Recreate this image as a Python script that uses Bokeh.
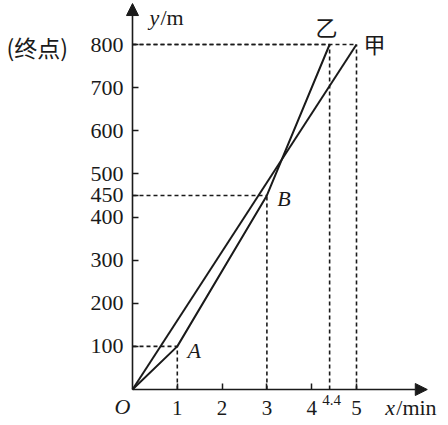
from bokeh.plotting import figure
from bokeh.models import Range1d, FixedTicker, Arrow, NormalHead, Label
from bokeh.embed import file_html
from bokeh.resources import INLINE

# ---- data ----
jia_x = [0, 5]
jia_y = [0, 800]
yi_x = [0, 1, 3, 4.4]
yi_y = [0, 100, 450, 800]
x_ticks = [1, 2, 3, 4, 5]
y_ticks = [100, 200, 300, 400, 450, 500, 600, 700, 800]

INK = "#1a1a1a"
SERIF = "Liberation Serif"
CJK = "Noto Sans CJK SC"

W, H = 446, 421
OX, OY = 132, 389          # pixel position of the origin
SX, SY = 44.8, 0.43125     # pixels per unit
X_TIP, Y_TIP = 6.58, 895

p = figure(width=W, height=H,
           x_range=Range1d(-OX / SX, (W - OX) / SX),
           y_range=Range1d(-(H - OY) / SY, OY / SY),
           output_backend="svg", toolbar_location=None,
           min_border_left=0, min_border_right=0, min_border_top=0, min_border_bottom=0)
p.grid.visible = False
p.outline_line_color = None
p.background_fill_color = "white"

for ax, ticks, size, standoff in ((p.xaxis[0], x_ticks, "21px", 11), (p.yaxis[0], y_ticks, "22px", 9)):
    ax.fixed_location = 0
    ax.ticker = FixedTicker(ticks=ticks)
    ax.axis_line_color = None
    ax.major_tick_in = 6
    ax.major_tick_out = 0
    ax.minor_tick_in = 0
    ax.minor_tick_out = 0
    ax.major_tick_line_color = INK
    ax.major_tick_line_width = 1.5
    ax.major_label_text_font = SERIF
    ax.major_label_text_font_size = size
    ax.major_label_text_color = INK
    ax.major_label_standoff = standoff

# dashed guide lines
pts_x = [yi_x[1], yi_x[2], yi_x[3], jia_x[1]]
pts_y = [yi_y[1], yi_y[2], yi_y[3], jia_y[1]]
p.segment(x0=[0] * len(pts_x), y0=pts_y, x1=pts_x, y1=pts_y,
          line_color=INK, line_width=1.6, line_dash="4 3")
p.segment(x0=pts_x, y0=[0] * len(pts_x), x1=pts_x, y1=pts_y,
          line_color=INK, line_width=1.6, line_dash="4 3")

# the two journeys
p.line(jia_x, jia_y, line_color=INK, line_width=2)
p.line(yi_x, yi_y, line_color=INK, line_width=2)

# axes with arrow heads
for xe, ye in ((X_TIP, 0), (0, Y_TIP)):
    p.add_layout(Arrow(x_start=0, y_start=0, x_end=xe, y_end=ye, line_color=INK, line_width=1.6,
                       end=NormalHead(size=12, fill_color=INK, line_color=INK, line_width=1)))

def lab(x, y, text, dx, dy, font=SERIF, size="22px", italic=False, align="center"):
    p.add_layout(Label(x=x, y=y, text=text, x_offset=dx, y_offset=dy, text_font=font,
                       text_font_size=size, text_font_style="italic" if italic else "normal",
                       text_align=align, text_baseline="middle", text_color=INK))

lab(0, 0, "O", -10, -17, italic=True)
lab(yi_x[1], yi_y[1], "A", 17, -4, italic=True)
lab(yi_x[2], yi_y[2], "B", 17, -3, italic=True)
lab(yi_x[3], yi_y[3], "乙", -3, 19, font=CJK)
lab(jia_x[1], jia_y[1], "甲", 18, 2, font=CJK)
lab(yi_x[3], 0, "4.4", 2, -10, size="15px")
lab(0, y_ticks[-1], "(终点)", -126, -2, font=CJK, size="23px", align="left")
lab(0, Y_TIP, "y", 17, -14, italic=True, align="left")
lab(0, Y_TIP, "/m", 28, -14, align="left")
lab(X_TIP, 0, "x", -42, -18, italic=True, align="left")
lab(X_TIP, 0, "/min", -31, -18, align="left")

open("out.html", "w").write(file_html(p, INLINE))
